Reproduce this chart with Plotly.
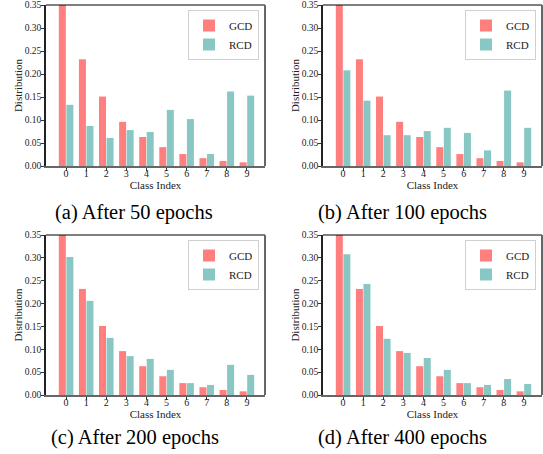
import plotly.graph_objects as go

classes = list(range(10))
gcd = [0.355, 0.232, 0.151, 0.096, 0.063, 0.041, 0.026, 0.017, 0.011, 0.008]
rcd_50 = [0.133, 0.087, 0.061, 0.078, 0.074, 0.122, 0.102, 0.026, 0.162, 0.153]
rcd_100 = [0.208, 0.142, 0.067, 0.067, 0.076, 0.083, 0.072, 0.034, 0.164, 0.083]
rcd_200 = [0.302, 0.206, 0.125, 0.085, 0.079, 0.055, 0.026, 0.022, 0.066, 0.044]
rcd_400 = [0.308, 0.243, 0.123, 0.092, 0.081, 0.055, 0.026, 0.022, 0.035, 0.024]
captions = ["(a) After 50 epochs", "(b) After 100 epochs",
            "(c) After 200 epochs", "(d) After 400 epochs"]
yticks = [0.0, 0.05, 0.10, 0.15, 0.20, 0.25, 0.30, 0.35]

W, H = 543, 454
FONT = "Times New Roman"
C_GCD = "#FF7F7F"
C_RCD = "#88C7C3"

panels = [
    (rcd_50, (46, 265), (5, 166), (134, 212)),
    (rcd_100, (323, 542), (5, 166), (402, 212)),
    (rcd_200, (46, 265), (235, 395), (135, 437)),
    (rcd_400, (323, 542), (235, 395), (402, 437)),
]

fig = go.Figure()
layout = dict(
    width=W, height=H, margin=dict(l=0, r=0, t=0, b=0, autoexpand=False),
    paper_bgcolor="white", plot_bgcolor="white",
    barmode="group", bargap=0.25, bargroupgap=0.07,
    font=dict(family=FONT, color="#222"),
    showlegend=True,
)
annotations = []
shapes = []
for i, (rcd, (x0, x1), (y0, y1), (cx, cy)) in enumerate(panels):
    n = "" if i == 0 else str(i + 1)
    xa, ya = "x" + n, "y" + n
    lg = "legend" + n
    fig.add_trace(go.Bar(x=classes, y=gcd, name="GCD", marker_color=C_GCD,
                         marker_line_width=0, xaxis=xa, yaxis=ya, legend=lg))
    fig.add_trace(go.Bar(x=classes, y=rcd, name="RCD", marker_color=C_RCD,
                         marker_line_width=0, xaxis=xa, yaxis=ya, legend=lg))
    layout["xaxis" + n] = dict(
        domain=[x0 / W, x1 / W], anchor=ya, range=[-1.0, 9.9], automargin=False,
        tickmode="array", tickvals=classes, ticktext=[str(c) for c in classes],
        ticks="outside", ticklen=3, tickcolor="#333", tickwidth=1,
        ticklabelstandoff=-6,
        showgrid=False, zeroline=False,
        showline=True, linecolor="#666", linewidth=2,
        tickfont=dict(size=10, family=FONT, color="#222"),
        title=dict(text="Class Index", font=dict(size=11, family=FONT, color="#222"), standoff=0),
    )
    layout["yaxis" + n] = dict(
        domain=[1 - y1 / H, 1 - y0 / H], anchor=xa, range=[0, 0.35], automargin=False,
        tickmode="array", tickvals=yticks, ticktext=[f"{v:.2f}" for v in yticks],
        ticks="outside", ticklen=3, tickcolor="#333", tickwidth=1,
        ticklabelstandoff=-2,
        showgrid=False, zeroline=False,
        showline=True, linecolor="#222", linewidth=1.5,
        tickfont=dict(size=9.5, family=FONT, color="#222"),
        title=dict(text="Distribution", font=dict(size=11, family=FONT, color="#222"), standoff=0),
    )
    layout[lg] = dict(
        x=(x1 - 6) / W, y=1 - (y0 + 5) / H, xanchor="right", yanchor="top",
        bgcolor="white", bordercolor="#d0d0d0", borderwidth=1,
        font=dict(size=11, family=FONT, color="#222"),
        itemwidth=30, tracegroupgap=0,
    )
    shapes.append(dict(type="line", xref=xa + " domain", yref=ya + " domain",
                       x0=0, x1=1, y0=1, y1=1, line=dict(color="black", width=1)))
    shapes.append(dict(type="line", xref=xa + " domain", yref=ya + " domain",
                       x0=1, x1=1, y0=0, y1=1, line=dict(color="#666", width=2)))
    annotations.append(dict(text=captions[i], x=cx / W, y=1 - cy / H,
                            xref="paper", yref="paper", showarrow=False,
                            xanchor="center", yanchor="middle",
                            font=dict(size=20.5, family=FONT, color="black")))

layout["annotations"] = annotations
layout["shapes"] = shapes
fig.update_layout(**layout)
fig.write_html("out.html", config={"displayModeBar": False},
               post_script="document.body.style.margin='0';document.body.style.padding='0';")
